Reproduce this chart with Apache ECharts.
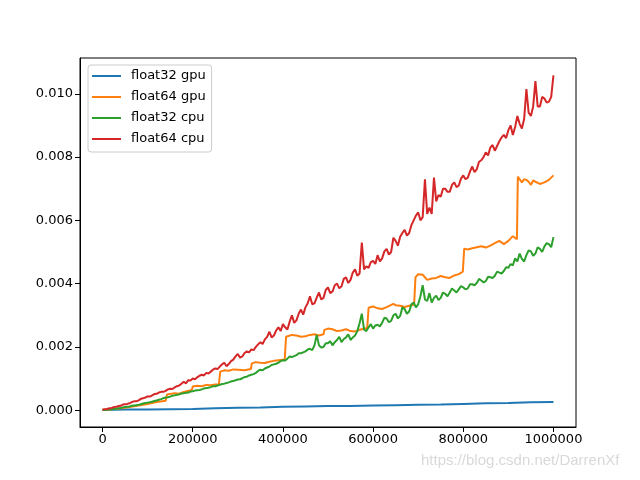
<!DOCTYPE html>
<html>
<head>
<meta charset="utf-8">
<script src="https://cdn.jsdelivr.net/npm/echarts@6/dist/echarts.min.js"></script>
<style>html,body{margin:0;padding:0;background:#fff;}#c{width:640px;height:480px;}</style>
</head>
<body>
<div id="c"></div>
<script>
// x grid (matrix size), step 5000, for the cpu series
const xs = [0,5000,10000,15000,20000,25000,30000,35000,40000,45000,50000,55000,60000,65000,70000,75000,80000,85000,90000,95000,
100000,105000,110000,115000,120000,125000,130000,135000,140000,145000,150000,155000,160000,165000,170000,175000,180000,185000,190000,195000,
200000,205000,210000,215000,220000,225000,230000,235000,240000,245000,250000,255000,260000,265000,270000,275000,280000,285000,290000,295000,
300000,305000,310000,315000,320000,325000,330000,335000,340000,345000,350000,355000,360000,365000,370000,375000,380000,385000,390000,395000,
400000,405000,410000,415000,420000,425000,430000,435000,440000,445000,450000,455000,460000,465000,470000,475000,480000,485000,490000,495000,
500000,505000,510000,515000,520000,525000,530000,535000,540000,545000,550000,555000,560000,565000,570000,575000,580000,585000,590000,595000,
600000,605000,610000,615000,620000,625000,630000,635000,640000,645000,650000,655000,660000,665000,670000,675000,680000,685000,690000,695000,
700000,705000,710000,715000,720000,725000,730000,735000,740000,745000,750000,755000,760000,765000,770000,775000,780000,785000,790000,795000,
800000,805000,810000,815000,820000,825000,830000,835000,840000,845000,850000,855000,860000,865000,870000,875000,880000,885000,890000,895000,
900000,905000,910000,915000,920000,925000,930000,935000,940000,945000,950000,955000,960000,965000,970000,975000,980000,985000,990000,995000,1000000];

const float64Cpu = [0.00002,0.00003,0.00004,0.00006,0.00007,0.00010,0.00011,0.00013,0.00014,0.00018,
0.00019,0.00020,0.00022,0.00026,0.00028,0.00028,0.00031,0.00036,0.00038,0.00040,
0.00044,0.00043,0.00047,0.00051,0.00052,0.00056,0.00058,0.00058,0.00061,0.00066,
0.00068,0.00067,0.00072,0.00076,0.00078,0.00084,0.00090,0.00085,0.00095,0.00094,
0.00100,0.00098,0.00104,0.00109,0.00112,0.00110,0.00118,0.00116,0.00122,0.00128,
0.00132,0.00130,0.00138,0.00145,0.00150,0.00139,0.00146,0.00155,0.00160,0.00170,
0.00178,0.00166,0.00170,0.00181,0.00186,0.00183,0.00192,0.00190,0.00200,0.00208,
0.00215,0.00209,0.00224,0.00232,0.00248,0.00230,0.00236,0.00252,0.00262,0.00250,
0.00272,0.00262,0.00255,0.00280,0.00300,0.00276,0.00284,0.00305,0.00318,0.00302,
0.00325,0.00338,0.00360,0.00335,0.00338,0.00356,0.00372,0.00350,0.00355,0.00380,
0.00388,0.00370,0.00375,0.00395,0.00400,0.00385,0.00392,0.00415,0.00420,0.00402,
0.00412,0.00435,0.00445,0.00425,0.00432,0.00530,0.00445,0.00455,0.00450,0.00468,
0.00472,0.00462,0.00490,0.00470,0.00480,0.00502,0.00510,0.00492,0.00500,0.00545,
0.00535,0.00520,0.00548,0.00560,0.00570,0.00552,0.00560,0.00585,0.00600,0.00615,
0.00625,0.00600,0.00610,0.00730,0.00620,0.00640,0.00620,0.00735,0.00660,0.00680,
0.00675,0.00700,0.00700,0.00690,0.00690,0.00712,0.00720,0.00705,0.00710,0.00732,
0.00742,0.00730,0.00735,0.00755,0.00770,0.00752,0.00762,0.00785,0.00790,0.00800,
0.00815,0.00805,0.00830,0.00838,0.00820,0.00835,0.00850,0.00862,0.00870,0.00860,
0.00885,0.00900,0.00870,0.00895,0.00930,0.00905,0.00890,0.00920,0.01015,0.00940,
0.00930,0.00960,0.01040,0.00960,0.00960,0.00990,0.00985,0.00972,0.00975,0.00990,0.01058];

const float32Cpu = [0.00001,0.00001,0.00002,0.00002,0.00003,0.00004,0.00005,0.00006,0.00007,0.00009,
0.00010,0.00011,0.00012,0.00014,0.00015,0.00016,0.00017,0.00019,0.00021,0.00023,
0.00024,0.00025,0.00027,0.00029,0.00031,0.00033,0.00035,0.00038,0.00040,0.00041,
0.00043,0.00046,0.00047,0.00049,0.00050,0.00053,0.00054,0.00055,0.00056,0.00059,
0.00060,0.00062,0.00063,0.00064,0.00066,0.00069,0.00070,0.00071,0.00073,0.00076,
0.00076,0.00078,0.00080,0.00083,0.00084,0.00086,0.00088,0.00091,0.00092,0.00095,
0.00097,0.00098,0.00101,0.00105,0.00106,0.00110,0.00112,0.00114,0.00118,0.00124,
0.00128,0.00126,0.00132,0.00135,0.00138,0.00143,0.00145,0.00147,0.00150,0.00155,
0.00158,0.00157,0.00163,0.00170,0.00168,0.00171,0.00174,0.00180,0.00180,0.00183,
0.00186,0.00192,0.00194,0.00190,0.00205,0.00238,0.00205,0.00198,0.00200,0.00212,
0.00212,0.00218,0.00205,0.00215,0.00222,0.00232,0.00215,0.00225,0.00230,0.00240,
0.00222,0.00230,0.00236,0.00250,0.00275,0.00305,0.00255,0.00250,0.00262,0.00272,
0.00258,0.00268,0.00270,0.00265,0.00276,0.00292,0.00290,0.00278,0.00282,0.00300,
0.00305,0.00290,0.00298,0.00325,0.00320,0.00305,0.00312,0.00335,0.00340,0.00325,
0.00335,0.00360,0.00395,0.00350,0.00345,0.00370,0.00340,0.00355,0.00362,0.00348,
0.00355,0.00372,0.00368,0.00360,0.00372,0.00385,0.00378,0.00372,0.00382,0.00392,
0.00388,0.00382,0.00385,0.00398,0.00398,0.00395,0.00402,0.00415,0.00410,0.00404,
0.00408,0.00422,0.00420,0.00418,0.00425,0.00438,0.00435,0.00432,0.00440,0.00452,
0.00450,0.00462,0.00458,0.00480,0.00470,0.00495,0.00478,0.00470,0.00490,0.00505,
0.00502,0.00488,0.00495,0.00515,0.00510,0.00500,0.00518,0.00528,0.00525,0.00515,0.00547];

const float64GpuX = [0,20000,40000,60000,80000,100000,120000,140000,143000,160000,170000,180000,198000,
200000,210000,220000,230000,240000,250000,258000,261000,270000,280000,290000,300000,315000,329000,331000,340000,350000,360000,370000,380000,390000,404000,
407000,420000,430000,440000,450000,460000,470000,480000,490000,492000,500000,510000,520000,530000,540000,550000,560000,570000,587000,590000,600000,610000,620000,630000,
645000,650000,660000,670000,680000,691000,694000,700000,710000,720000,730000,740000,750000,760000,770000,780000,790000,799000,802000,810000,820000,830000,840000,850000,
860000,870000,880000,890000,900000,910000,919000,921000,925000,930000,935000,940000,945000,950000,955000,960000,970000,980000,990000,1000000];
const float64GpuY = [0.00001,0.00003,0.00006,0.00010,0.00015,0.00020,0.00026,0.00030,0.00050,0.00054,0.00052,0.00058,0.00064,
0.00075,0.00077,0.00076,0.00080,0.00079,0.00081,0.00082,0.00122,0.00126,0.00125,0.00129,0.00128,0.00126,0.00130,0.00148,0.00152,0.00150,0.00149,0.00153,0.00156,0.00158,0.00160,
0.00232,0.00238,0.00236,0.00232,0.00234,0.00238,0.00240,0.00236,0.00240,0.00254,0.00258,0.00256,0.00250,0.00252,0.00256,0.00250,0.00249,0.00254,0.00260,0.00324,0.00328,0.00322,0.00320,0.00326,
0.00336,0.00332,0.00330,0.00326,0.00330,0.00334,0.00420,0.00430,0.00428,0.00412,0.00416,0.00418,0.00424,0.00420,0.00418,0.00426,0.00430,0.00438,0.00510,0.00508,0.00512,0.00515,0.00518,0.00514,
0.00520,0.00528,0.00535,0.00525,0.00535,0.00550,0.00540,0.00738,0.00730,0.00720,0.00730,0.00728,0.00722,0.00712,0.00726,0.00722,0.00715,0.00720,0.00728,0.00742];

const float32GpuX = [0,50000,100000,150000,200000,250000,300000,350000,400000,450000,500000,
550000,600000,650000,700000,750000,800000,850000,900000,950000,1000000];
const float32GpuY = [0.00001,0.00002,0.00002,0.00003,0.00004,0.00006,0.00008,0.00009,0.00011,0.00012,0.00013,
0.00013,0.00015,0.00016,0.00017,0.00018,0.00020,0.00022,0.00023,0.00025,0.00026];

const seriesNames = ['float32 gpu','float64 gpu','float32 cpu','float64 cpu'];
const colors = ['#1f77b4','#ff7f0e','#2ca02c','#d62728'];
const xTicks = [0,200000,400000,600000,800000,1000000];
const yTicks = [0,0.002,0.004,0.006,0.008,0.010];

const zip = (a,b) => a.map((v,i) => [v,b[i]]);
const seriesData = [
  zip(float32GpuX, float32GpuY),
  zip(float64GpuX, float64GpuY),
  zip(xs, float32Cpu),
  zip(xs, float64Cpu)
];

const font = 'DejaVu Sans';
const chart = echarts.init(document.getElementById('c'), null, {renderer:'canvas'});
chart.setOption({
  animation: false,
  backgroundColor: '#fff',
  grid: {left:80, right:64, top:58, bottom:53, show:true, borderColor:'#000', borderWidth:1, containLabel:false},
  xAxis: {
    type:'value', min:-50000, max:1050000,
    axisLine:{show:true, onZero:false, lineStyle:{color:'#000', width:1}},
    axisTick:{show:true, customValues:xTicks, length:5, lineStyle:{color:'#000'}},
    axisLabel:{customValues:xTicks, color:'#000', fontSize:13, fontFamily:font, margin:6, formatter:v=>String(v)},
    splitLine:{show:false}
  },
  yAxis: {
    type:'value', min:-0.00053, max:0.01113,
    axisLine:{show:true, onZero:false, lineStyle:{color:'#000', width:1}},
    axisTick:{show:true, customValues:yTicks, length:5, lineStyle:{color:'#000'}},
    axisLabel:{customValues:yTicks, color:'#000', fontSize:13, fontFamily:font, margin:7, formatter:v=>v.toFixed(3)},
    splitLine:{show:false}
  },
  legend: {
    orient:'vertical', left:88, top:65,
    padding:[4,6,6,4],
    itemWidth:29, itemHeight:2, itemGap:7, icon:'rect',
    backgroundColor:'rgba(255,255,255,0.8)', borderColor:'#cccccc', borderWidth:1, borderRadius:3,
    textStyle:{color:'#000', fontSize:13, fontFamily:font, lineHeight:14, padding:[0,0,0,5]},
    data: seriesNames
  },
  graphic: [{
    type:'text', left:421, top:453, silent:true,
    style:{text:'https://blog.csdn.net/DarrenXf', fill:'#d9d9d9', font:'15px "Liberation Sans"'}
  }],
  series: seriesNames.map((n,i) => ({
    name:n, type:'line', data:seriesData[i], showSymbol:false, symbol:'none',
    color:colors[i], lineStyle:{color:colors[i], width:2}, z:2+i
  }))
});
</script>
</body>
</html>
